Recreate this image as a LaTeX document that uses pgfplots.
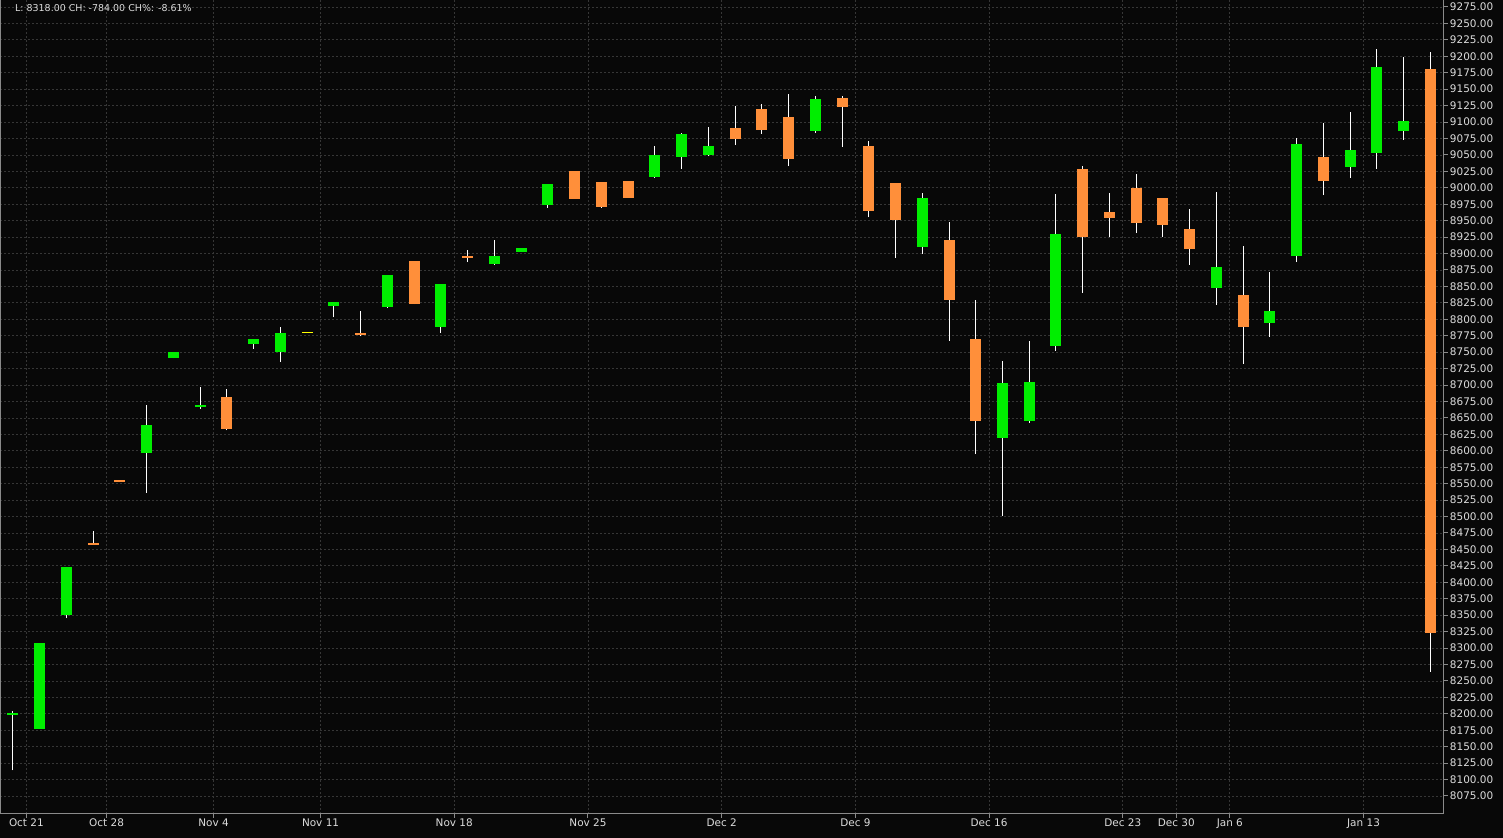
\documentclass[border=0pt]{standalone}
\usepackage{pgfplots}
\pgfplotsset{compat=1.18}
\usepackage{pgfplotstable}
\usepackage{fontspec}
\setmainfont{DejaVu Sans}
\definecolor{bg}{HTML}{080808}
\definecolor{cgreen}{HTML}{00EE00}
\definecolor{corange}{HTML}{FF8F3A}
\definecolor{cyellow}{HTML}{FFFF00}
\definecolor{gridc}{HTML}{363636}
\definecolor{axisc}{HTML}{8A8A8A}
\definecolor{txtc}{HTML}{DCDCDC}

% x = trading-day index, o h l c
\pgfplotstableread{
x o h l c
0 8199 8204 8114 8201
1 8177 8308 8177 8308
2 8350 8423 8345 8423
5 8597 8670 8536 8639
6 8741 8750 8741 8750
7 8666 8697 8664 8670
9 8762 8770 8755 8770
10 8750 8788 8735 8779
12 8820 8826 8803 8826
14 8819 8867 8817 8867
16 8788 8854 8779 8854
18 8884 8921 8883 8896
19 8902 8908 8902 8908
20 8974 9006 8970 9006
24 9016 9064 9015 9050
25 9047 9083 9029 9082
26 9050 9093 9048 9064
30 9086 9140 9083 9135
34 8910 8992 8899 8985
37 8619 8737 8501 8703
38 8645 8767 8642 8705
39 8759 8991 8752 8930
45 8848 8994 8822 8880
47 8794 8872 8773 8813
48 8896 9076 8887 9067
50 9032 9115 9015 9058
51 9053 9211 9029 9184
52 9086 9199 9073 9102
}\greendata

\pgfplotstableread{
x o h l c
3 8460 8478 8457 8457
4 8556 8556 8553 8553
8 8682 8694 8631 8633
13 8779 8813 8774 8777
15 8889 8889 8823 8823
17 8896 8905 8887 8893
21 9026 9026 8983 8983
22 9009 9009 8969 8971
23 9010 9010 8985 8985
27 9091 9124 9065 9074
28 9120 9128 9082 9088
29 9108 9143 9033 9044
31 9137 9140 9062 9123
32 9064 9071 8955 8965
33 9007 9007 8893 8951
35 8921 8948 8767 8829
36 8770 8829 8595 8645
40 9029 9033 8840 8925
41 8963 8992 8925 8954
42 9000 9021 8931 8947
43 8985 8985 8925 8943
44 8937 8968 8883 8907
46 8837 8912 8732 8788
49 9047 9099 8989 9010
53 9181 9207 8264 8323
}\orangedata

\pgfplotstableread{
x o h l c
11 8780 8780 8780 8780
}\yellowdata

\pgfplotsset{
  wick/.style={draw=none, mark=none, forget plot,
    error bars/.cd, y dir=plus, y explicit,
    draw error bar/.code 2 args={\draw[white, line width=1bp, line cap=butt] ##1 -- ##2;}},
  body/.style={draw=none, mark=none, forget plot,
    error bars/.cd, y dir=plus, y explicit,
    draw error bar/.code 2 args={\path ##1 coordinate (eba) ##2 coordinate (ebb);
      \fill[#1] ([xshift=-5.5bp]eba) rectangle ([xshift=5.5bp]ebb);}},
}

\begin{document}
\begin{tikzpicture}
\fill[bg, use as bounding box] (0,0) rectangle (1503bp,838bp);
\begin{axis}[
  at={(0bp,24bp)}, anchor=south west,
  scale only axis, width=1443.7bp, height=814bp,
  xmin=-0.486, xmax=53.5, ymin=8047.6, ymax=9285.6,
  axis background/.style={fill=bg},
  axis line style={axisc, line width=1bp},
  xtick={0.5,3.5,7.5,11.5,16.5,21.5,26.5,31.5,36.5,41.5,43.5,45.5,50.5},
  xticklabels={Oct 21,Oct 28,Nov 4,Nov 11,Nov 18,Nov 25,Dec 2,Dec 9,Dec 16,Dec 23,Dec 30,Jan 6,Jan 13},
  ytick={8075,8100,...,9275},
  xtick pos=lower, ytick pos=right, yticklabel pos=right,
  tick align=outside, major tick length=4bp,
  tick style={axisc, line width=1bp},
  grid=major,
  major grid style={gridc, line width=0.8bp, dash pattern=on 2bp off 2bp},
  ticklabel style={font=\fontsize{10.5}{12}\selectfont, text=txtc},
  xticklabel style={inner sep=1bp},
  yticklabel style={inner sep=2bp},
  /pgf/number format/.cd, fixed, fixed zerofill, precision=2, use period, 1000 sep={}, assume math mode=true,
  /pgfplots/.cd,
  clip=true,
]
% wicks
\addplot[wick] table[x=x, y=l, y error plus expr={\thisrow{h}-\thisrow{l}}] {\greendata};
\addplot[wick] table[x=x, y=l, y error plus expr={\thisrow{h}-\thisrow{l}}] {\orangedata};
\addplot[wick] table[x=x, y=l, y error plus expr={\thisrow{h}-\thisrow{l}}] {\yellowdata};
% bodies (minimum height of 3 points)
\addplot[body=cgreen] table[x=x, y expr={(\thisrow{o}+\thisrow{c})/2-max(abs(\thisrow{c}-\thisrow{o}),3)/2}, y error plus expr={max(abs(\thisrow{c}-\thisrow{o}),3)}] {\greendata};
\addplot[body=corange] table[x=x, y expr={(\thisrow{o}+\thisrow{c})/2-max(abs(\thisrow{c}-\thisrow{o}),3)/2}, y error plus expr={max(abs(\thisrow{c}-\thisrow{o}),3)}] {\orangedata};
\addplot[body=cyellow] table[x=x, y expr={(\thisrow{o}+\thisrow{c})/2-max(abs(\thisrow{c}-\thisrow{o}),3)/2}, y error plus expr={max(abs(\thisrow{c}-\thisrow{o}),3)}] {\yellowdata};
\node[anchor=west, inner sep=0pt, text=txtc, font=\fontsize{9.5}{11}\selectfont] at (axis description cs:0.0104,0.990) {L: 8318.00 CH: -784.00 CH\%: -8.61\%};
\end{axis}
\end{tikzpicture}
\end{document}
